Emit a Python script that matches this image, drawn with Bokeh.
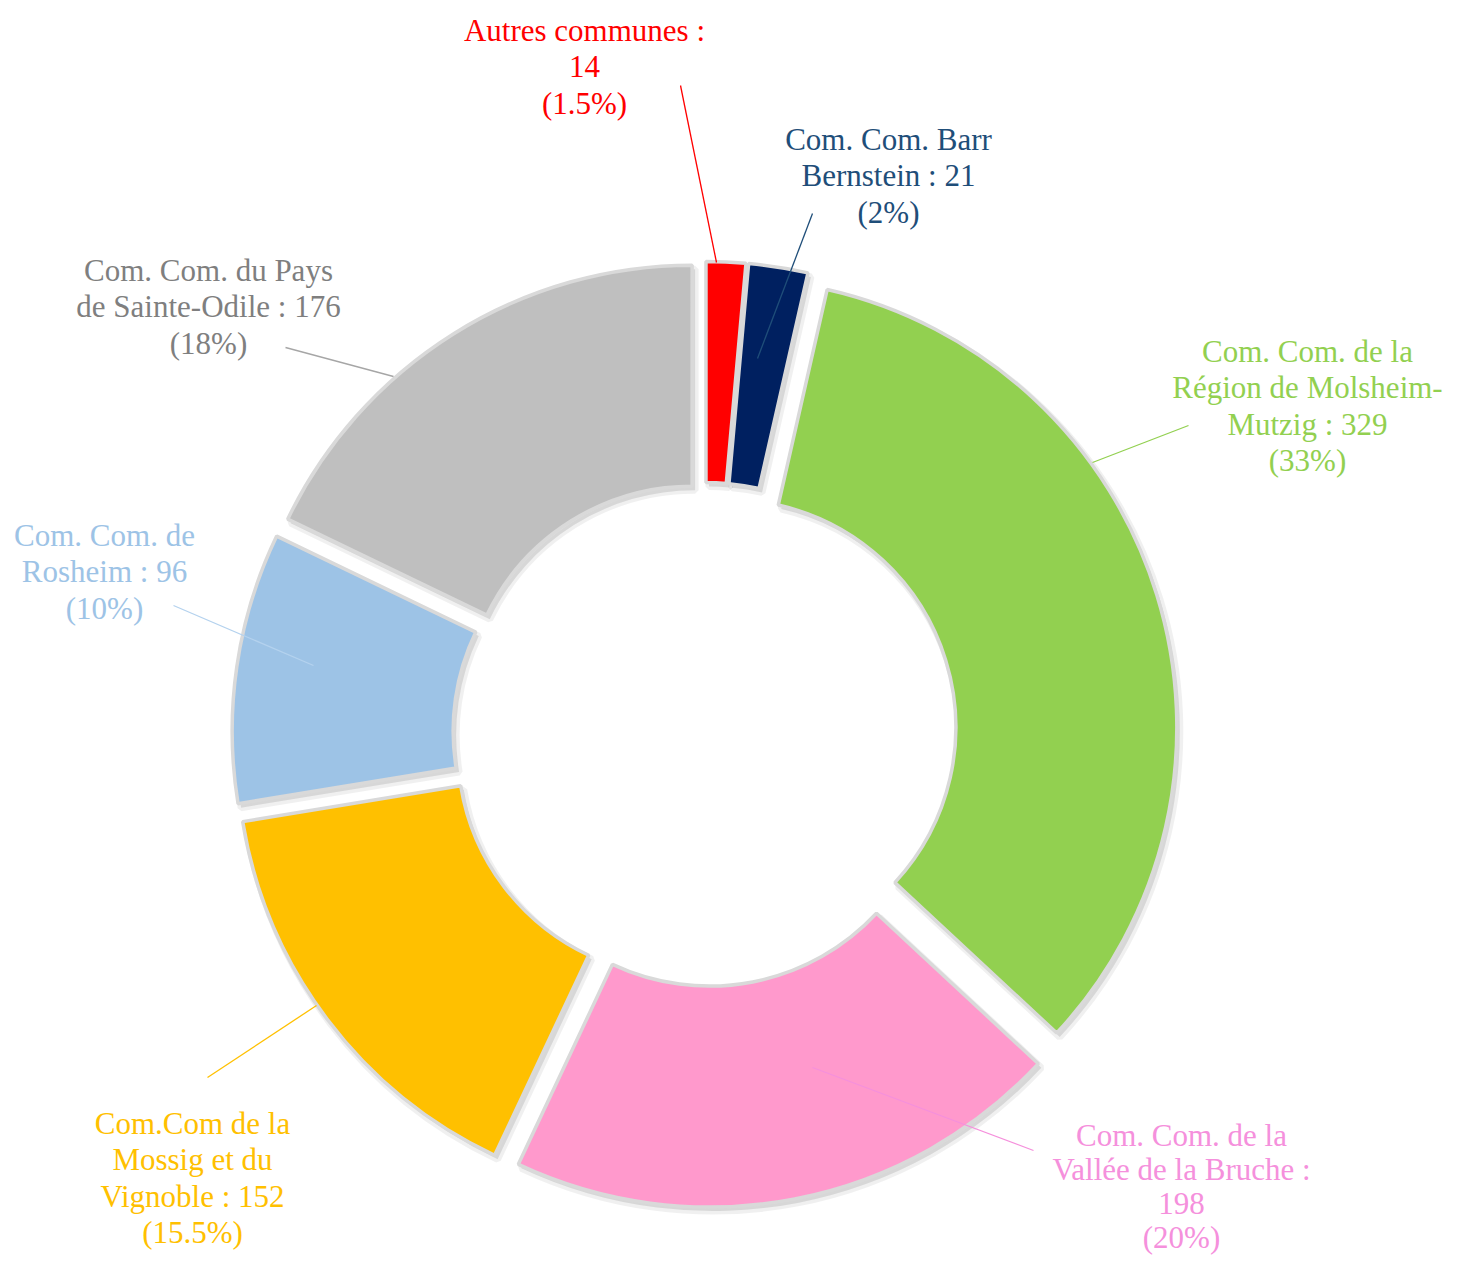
import numpy as np
from bokeh.plotting import figure
from bokeh.models import Range1d, ColumnDataSource
from bokeh.embed import file_html
from bokeh.resources import INLINE
from bokeh.core.properties import value

# ---------------- data ----------------
categories = [
    "Autres communes",
    "Com. Com. Barr Bernstein",
    "Com. Com. de la Région de Molsheim-Mutzig",
    "Com. Com. de la Vallée de la Bruche",
    "Com.Com de la Mossig et du Vignoble",
    "Com. Com. de Rosheim",
    "Com. Com. du Pays de Sainte-Odile",
]
values = [14, 21, 329, 198, 152, 96, 176]
label_lines = [
    ["Autres communes :", "14", "(1.5%)"],
    ["Com. Com. Barr", "Bernstein : 21", "(2%)"],
    ["Com. Com. de la", "Région de Molsheim-", "Mutzig : 329", "(33%)"],
    ["Com. Com. de la", "Vallée de la Bruche :", "198", "(20%)"],
    ["Com.Com de la", "Mossig et du", "Vignoble : 152", "(15.5%)"],
    ["Com. Com. de", "Rosheim : 96", "(10%)"],
    ["Com. Com. du Pays", "de Sainte-Odile : 176", "(18%)"],
]

# ---------------- styles ----------------
fill_colors = ["#FF0000", "#002060", "#92D050", "#FF99CC", "#FFC000", "#9DC3E6", "#BFBFBF"]
label_colors = ["#FF0000", "#1F4E79", "#92D050", "#F590DC", "#FFC000", "#9DC3E6", "#7F7F7F"]
leader_colors = ["#FF0000", "#1F4E79", "#92D050", "#F590DC", "#FFC000", "#B4D2EE", "#A6A6A6"]

# layout (pixel coordinates of the picture): label centre x, first line y, line height
label_pos = [(584, 30, 36.4), (888, 139, 36.4), (1307, 351, 36.4), (1181, 1135, 34.0),
             (192, 1123, 36.4), (104, 535, 36.4), (208, 270, 36.4)]
# leader line from (x0, y0) to (x1, y1)
leaders = [
    (680, 85, 716, 262),
    (812, 213, 757, 358),
    (1188, 425, 1092, 462),
    (1033, 1150, 812, 1067),
    (207, 1077, 316, 1005),
    (173, 605, 313, 665),
    (285, 347, 393, 376),
]
CX, CY = 704.4, 734.0      # donut centre (px)
R_OUT, R_IN = 449.0, 228.0
EXPLODE = 24.0
FONT = "Liberation Serif"

# ---------------- figure ----------------
W, H = 1445, 1259
p = figure(width=W, height=H, x_range=Range1d(0, W), y_range=Range1d(-H, 0),
           output_backend="svg", toolbar_location=None, min_border=0)
p.axis.visible = False
p.grid.visible = False
p.outline_line_color = None
p.background_fill_color = "white"
p.border_fill_color = "white"

vals = np.array(values, dtype=float)
total = vals.sum()
cum = np.cumsum(vals)
t_start = 2 * np.pi * (cum - vals) / total   # clockwise from 12 o'clock
t_end = 2 * np.pi * cum / total
mid = (t_start + t_end) / 2
xs = CX + EXPLODE * np.sin(mid)
ys = -CY + EXPLODE * np.cos(mid)

src = ColumnDataSource(dict(
    x=xs, y=ys,
    start=np.pi / 2 - t_end, end=np.pi / 2 - t_start,
    color=fill_colors, name=categories,
))
shadow1 = ColumnDataSource(dict(x=xs + 3, y=ys - 4, start=np.pi / 2 - t_end, end=np.pi / 2 - t_start))

# soft shadow
p.annular_wedge(x="x", y="y", inner_radius=R_IN, outer_radius=R_OUT,
                start_angle="start", end_angle="end", source=shadow1,
                fill_color="#000000", fill_alpha=0.10,
                line_color="#000000", line_alpha=0.06, line_width=7)
# slices
p.annular_wedge(x="x", y="y", inner_radius=R_IN, outer_radius=R_OUT,
                start_angle="start", end_angle="end", source=src,
                fill_color="color", line_color="#D9D9D9", line_width=3.5)

# leader lines
p.segment(x0=[l[0] for l in leaders], y0=[-l[1] for l in leaders],
          x1=[l[2] for l in leaders], y1=[-l[3] for l in leaders],
          line_color=leader_colors, line_width=1.3)

# labels
tx, ty, tt, tc = [], [], [], []
for lines, (lx, ly, lh), col in zip(label_lines, label_pos, label_colors):
    for j, s in enumerate(lines):
        tx.append(lx)
        ty.append(-(ly + j * lh))
        tt.append(s)
        tc.append(col)
p.text(x="x", y="y", text="text", text_color="color",
       source=ColumnDataSource(dict(x=tx, y=ty, text=tt, color=tc)),
       text_align="center", text_baseline="middle",
       text_font=value(FONT), text_font_size="31px")

open("out.html", "w").write(file_html(p, INLINE))
